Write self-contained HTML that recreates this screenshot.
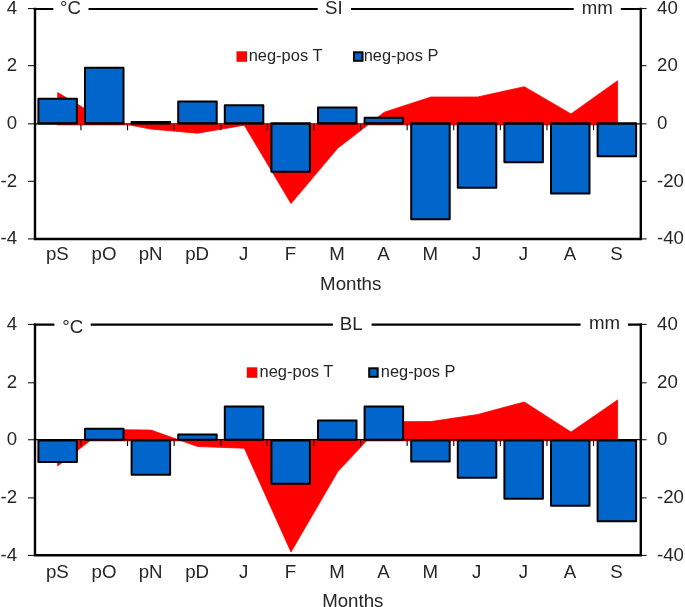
<!DOCTYPE html>
<html>
<head>
<meta charset="utf-8">
<title>Chart</title>
<style>
html,body{margin:0;padding:0;background:#fff;}
body{width:685px;height:607px;overflow:hidden;}
svg{display:block;will-change:transform;}
text{font-family:"Liberation Sans",sans-serif;fill:#262626;}
.ax{font-size:18.67px;}
.lg{font-size:16px;}
</style>
</head>
<body>
<svg width="685" height="607" viewBox="0 0 685 607">
<rect x="0" y="0" width="685" height="607" fill="#ffffff"/>

<line x1="34.95" y1="123.85" x2="640.80" y2="123.85" stroke="#000" stroke-width="1.3"/>
<polygon fill="#ff0000" stroke="#ff0000" stroke-width="0.8" stroke-linejoin="miter" points="57.7,124.2 57.7,92.6 104.3,120.2 151.0,129.1 197.6,133.2 244.3,125.2 291.0,203.6 337.7,148.2 384.3,112.2 431.0,97.0 477.7,97.0 524.3,86.7 571.0,113.9 617.6,80.7 617.6,124.2"/>
<rect x="57.05" y="123.00" width="561.20" height="2.30" fill="#ff0000"/>
<rect x="38.40" y="98.70" width="38.50" height="24.60" fill="#0066cc" stroke="#000" stroke-width="2" stroke-linejoin="round"/>
<line x1="37.50" y1="123.50" x2="77.80" y2="123.50" stroke="#000" stroke-width="2.2"/>
<rect x="85.00" y="67.80" width="38.50" height="55.50" fill="#0066cc" stroke="#000" stroke-width="2" stroke-linejoin="round"/>
<line x1="84.10" y1="123.50" x2="124.40" y2="123.50" stroke="#000" stroke-width="2.2"/>
<rect x="131.60" y="122.10" width="38.50" height="1.20" fill="#0066cc" stroke="#000" stroke-width="2" stroke-linejoin="round"/>
<line x1="130.70" y1="123.50" x2="171.00" y2="123.50" stroke="#000" stroke-width="2.2"/>
<rect x="178.20" y="101.60" width="38.50" height="21.70" fill="#0066cc" stroke="#000" stroke-width="2" stroke-linejoin="round"/>
<line x1="177.30" y1="123.50" x2="217.60" y2="123.50" stroke="#000" stroke-width="2.2"/>
<rect x="224.80" y="105.30" width="38.50" height="18.00" fill="#0066cc" stroke="#000" stroke-width="2" stroke-linejoin="round"/>
<line x1="223.90" y1="123.50" x2="264.20" y2="123.50" stroke="#000" stroke-width="2.2"/>
<rect x="271.40" y="123.50" width="38.50" height="48.30" fill="#0066cc" stroke="#000" stroke-width="2" stroke-linejoin="round"/>
<line x1="270.50" y1="123.50" x2="310.80" y2="123.50" stroke="#000" stroke-width="2.2"/>
<rect x="318.00" y="107.40" width="38.50" height="15.90" fill="#0066cc" stroke="#000" stroke-width="2" stroke-linejoin="round"/>
<line x1="317.10" y1="123.50" x2="357.40" y2="123.50" stroke="#000" stroke-width="2.2"/>
<rect x="364.60" y="117.70" width="38.50" height="5.60" fill="#0066cc" stroke="#000" stroke-width="2" stroke-linejoin="round"/>
<line x1="363.70" y1="123.50" x2="404.00" y2="123.50" stroke="#000" stroke-width="2.2"/>
<rect x="411.20" y="123.50" width="38.50" height="95.70" fill="#0066cc" stroke="#000" stroke-width="2" stroke-linejoin="round"/>
<line x1="410.30" y1="123.50" x2="450.60" y2="123.50" stroke="#000" stroke-width="2.2"/>
<rect x="457.80" y="123.50" width="38.50" height="64.20" fill="#0066cc" stroke="#000" stroke-width="2" stroke-linejoin="round"/>
<line x1="456.90" y1="123.50" x2="497.20" y2="123.50" stroke="#000" stroke-width="2.2"/>
<rect x="504.40" y="123.50" width="38.50" height="38.70" fill="#0066cc" stroke="#000" stroke-width="2" stroke-linejoin="round"/>
<line x1="503.50" y1="123.50" x2="543.80" y2="123.50" stroke="#000" stroke-width="2.2"/>
<rect x="551.00" y="123.50" width="38.50" height="70.10" fill="#0066cc" stroke="#000" stroke-width="2" stroke-linejoin="round"/>
<line x1="550.10" y1="123.50" x2="590.40" y2="123.50" stroke="#000" stroke-width="2.2"/>
<rect x="597.60" y="123.50" width="38.50" height="32.70" fill="#0066cc" stroke="#000" stroke-width="2" stroke-linejoin="round"/>
<line x1="596.70" y1="123.50" x2="637.00" y2="123.50" stroke="#000" stroke-width="2.2"/>
<line x1="80.95" y1="124.05" x2="80.95" y2="130.35" stroke="#000" stroke-width="1.1"/>
<line x1="127.55" y1="124.05" x2="127.55" y2="130.35" stroke="#000" stroke-width="1.1"/>
<line x1="174.15" y1="124.05" x2="174.15" y2="130.35" stroke="#000" stroke-width="1.1"/>
<line x1="220.75" y1="124.05" x2="220.75" y2="130.35" stroke="#000" stroke-width="1.1"/>
<line x1="267.35" y1="124.05" x2="267.35" y2="130.35" stroke="#000" stroke-width="1.1"/>
<line x1="313.95" y1="124.05" x2="313.95" y2="130.35" stroke="#000" stroke-width="1.1"/>
<line x1="360.55" y1="124.05" x2="360.55" y2="130.35" stroke="#000" stroke-width="1.1"/>
<line x1="407.15" y1="124.05" x2="407.15" y2="130.35" stroke="#000" stroke-width="1.1"/>
<line x1="453.75" y1="124.05" x2="453.75" y2="130.35" stroke="#000" stroke-width="1.1"/>
<line x1="500.35" y1="124.05" x2="500.35" y2="130.35" stroke="#000" stroke-width="1.1"/>
<line x1="546.95" y1="124.05" x2="546.95" y2="130.35" stroke="#000" stroke-width="1.1"/>
<line x1="593.55" y1="124.05" x2="593.55" y2="130.35" stroke="#000" stroke-width="1.1"/>
<path d="M35.0 9.0 V239.0 H640.8 V9.0" fill="none" stroke="#000" stroke-width="2.4" stroke-linecap="square" stroke-linejoin="miter"/>
<line x1="33.8" y1="9.0" x2="642.0" y2="9.0" stroke="#000" stroke-width="2.2"/>
<line x1="27.9" y1="8.60" x2="35.0" y2="8.60" stroke="#000" stroke-width="1"/>
<line x1="640.8" y1="8.60" x2="646.6" y2="8.60" stroke="#000" stroke-width="1"/>
<text class="ax" transform="translate(17.20,14.10) scale(1.000,1)" text-anchor="end">4</text>
<text class="ax" transform="translate(657.00,14.10) scale(1.000,1)">40</text>
<line x1="27.9" y1="65.70" x2="35.0" y2="65.70" stroke="#000" stroke-width="1"/>
<line x1="640.8" y1="65.70" x2="646.6" y2="65.70" stroke="#000" stroke-width="1"/>
<text class="ax" transform="translate(17.20,71.20) scale(1.000,1)" text-anchor="end">2</text>
<text class="ax" transform="translate(657.00,71.20) scale(1.000,1)">20</text>
<line x1="27.9" y1="123.85" x2="35.0" y2="123.85" stroke="#000" stroke-width="1"/>
<line x1="640.8" y1="123.85" x2="646.6" y2="123.85" stroke="#000" stroke-width="1"/>
<text class="ax" transform="translate(17.20,129.35) scale(1.000,1)" text-anchor="end">0</text>
<text class="ax" transform="translate(657.00,129.35) scale(1.000,1)">0</text>
<line x1="27.9" y1="181.30" x2="35.0" y2="181.30" stroke="#000" stroke-width="1"/>
<line x1="640.8" y1="181.30" x2="646.6" y2="181.30" stroke="#000" stroke-width="1"/>
<text class="ax" transform="translate(17.20,186.80) scale(1.000,1)" text-anchor="end">-2</text>
<text class="ax" transform="translate(657.00,186.80) scale(1.000,1)">-20</text>
<line x1="27.9" y1="238.90" x2="35.0" y2="238.90" stroke="#000" stroke-width="1"/>
<line x1="640.8" y1="238.90" x2="646.6" y2="238.90" stroke="#000" stroke-width="1"/>
<text class="ax" transform="translate(17.20,244.40) scale(1.000,1)" text-anchor="end">-4</text>
<text class="ax" transform="translate(657.00,244.40) scale(1.000,1)">-40</text>
<rect x="53.3" y="6.0" width="35.2" height="6" fill="#fff"/>
<text class="ax" transform="translate(60.00,13.70) scale(1.000,1)">°C</text>
<rect x="317.7" y="6.0" width="33.3" height="6" fill="#fff"/>
<text class="ax" transform="translate(325.00,13.70) scale(1.000,1)">SI</text>
<rect x="573.7" y="6.0" width="47.1" height="6" fill="#fff"/>
<text class="ax" transform="translate(581.70,13.70) scale(1.000,1)">mm</text>
<rect x="236.5" y="51.3" width="10.5" height="10.5" fill="#ff0000"/>
<text class="lg" x="248.65" y="60.7" textLength="73.8" lengthAdjust="spacingAndGlyphs">neg-pos T</text>
<rect x="354.0" y="52.3" width="8.5" height="8.5" fill="#0066cc" stroke="#000" stroke-width="2"/>
<text class="lg" x="363.65" y="60.7" textLength="74.8" lengthAdjust="spacingAndGlyphs">neg-pos P</text>
<text class="ax" transform="translate(57.35,260.40) scale(1.000,1)" text-anchor="middle">pS</text>
<text class="ax" transform="translate(103.95,260.40) scale(1.000,1)" text-anchor="middle">pO</text>
<text class="ax" transform="translate(150.55,260.40) scale(1.000,1)" text-anchor="middle">pN</text>
<text class="ax" transform="translate(197.15,260.40) scale(1.000,1)" text-anchor="middle">pD</text>
<text class="ax" transform="translate(243.75,260.40) scale(1.000,1)" text-anchor="middle">J</text>
<text class="ax" transform="translate(290.35,260.40) scale(1.000,1)" text-anchor="middle">F</text>
<text class="ax" transform="translate(336.95,260.40) scale(1.000,1)" text-anchor="middle">M</text>
<text class="ax" transform="translate(383.55,260.40) scale(1.000,1)" text-anchor="middle">A</text>
<text class="ax" transform="translate(430.15,260.40) scale(1.000,1)" text-anchor="middle">M</text>
<text class="ax" transform="translate(476.75,260.40) scale(1.000,1)" text-anchor="middle">J</text>
<text class="ax" transform="translate(523.35,260.40) scale(1.000,1)" text-anchor="middle">J</text>
<text class="ax" transform="translate(569.95,260.40) scale(1.000,1)" text-anchor="middle">A</text>
<text class="ax" transform="translate(616.55,260.40) scale(1.000,1)" text-anchor="middle">S</text>
<text class="ax" transform="translate(350.70,289.60) scale(1.000,1)" text-anchor="middle">Months</text>
<polygon fill="#ff0000" stroke="#ff0000" stroke-width="0.8" stroke-linejoin="miter" points="57.7,440.5 57.7,465.9 104.3,429.6 151.0,430.1 197.6,446.5 244.3,448.2 291.0,552.0 337.7,471.7 384.3,421.7 431.0,421.6 477.7,414.5 524.3,402.0 571.0,432.1 617.6,399.9 617.6,440.5"/>
<rect x="57.05" y="439.20" width="561.20" height="2.10" fill="#ff0000"/>
<line x1="34.95" y1="439.55" x2="640.80" y2="439.55" stroke="#000" stroke-width="1.3"/>
<rect x="38.40" y="440.40" width="38.50" height="21.50" fill="#0066cc" stroke="#000" stroke-width="2" stroke-linejoin="round"/>
<rect x="85.00" y="428.70" width="38.50" height="11.00" fill="#0066cc" stroke="#000" stroke-width="2" stroke-linejoin="round"/>
<rect x="131.60" y="440.40" width="38.50" height="34.30" fill="#0066cc" stroke="#000" stroke-width="2" stroke-linejoin="round"/>
<rect x="178.20" y="434.40" width="38.50" height="5.30" fill="#0066cc" stroke="#000" stroke-width="2" stroke-linejoin="round"/>
<rect x="224.80" y="406.50" width="38.50" height="33.20" fill="#0066cc" stroke="#000" stroke-width="2" stroke-linejoin="round"/>
<rect x="271.40" y="440.40" width="38.50" height="43.30" fill="#0066cc" stroke="#000" stroke-width="2" stroke-linejoin="round"/>
<rect x="318.00" y="420.50" width="38.50" height="19.20" fill="#0066cc" stroke="#000" stroke-width="2" stroke-linejoin="round"/>
<rect x="364.60" y="406.60" width="38.50" height="33.10" fill="#0066cc" stroke="#000" stroke-width="2" stroke-linejoin="round"/>
<rect x="411.20" y="440.40" width="38.50" height="21.10" fill="#0066cc" stroke="#000" stroke-width="2" stroke-linejoin="round"/>
<rect x="457.80" y="440.40" width="38.50" height="37.30" fill="#0066cc" stroke="#000" stroke-width="2" stroke-linejoin="round"/>
<rect x="504.40" y="440.40" width="38.50" height="58.30" fill="#0066cc" stroke="#000" stroke-width="2" stroke-linejoin="round"/>
<rect x="551.00" y="440.40" width="38.50" height="65.40" fill="#0066cc" stroke="#000" stroke-width="2" stroke-linejoin="round"/>
<rect x="597.60" y="440.40" width="38.50" height="80.80" fill="#0066cc" stroke="#000" stroke-width="2" stroke-linejoin="round"/>
<line x1="80.95" y1="439.75" x2="80.95" y2="446.05" stroke="#000" stroke-width="1.1"/>
<line x1="127.55" y1="439.75" x2="127.55" y2="446.05" stroke="#000" stroke-width="1.1"/>
<line x1="174.15" y1="439.75" x2="174.15" y2="446.05" stroke="#000" stroke-width="1.1"/>
<line x1="220.75" y1="439.75" x2="220.75" y2="446.05" stroke="#000" stroke-width="1.1"/>
<line x1="267.35" y1="439.75" x2="267.35" y2="446.05" stroke="#000" stroke-width="1.1"/>
<line x1="313.95" y1="439.75" x2="313.95" y2="446.05" stroke="#000" stroke-width="1.1"/>
<line x1="360.55" y1="439.75" x2="360.55" y2="446.05" stroke="#000" stroke-width="1.1"/>
<line x1="407.15" y1="439.75" x2="407.15" y2="446.05" stroke="#000" stroke-width="1.1"/>
<line x1="453.75" y1="439.75" x2="453.75" y2="446.05" stroke="#000" stroke-width="1.1"/>
<line x1="500.35" y1="439.75" x2="500.35" y2="446.05" stroke="#000" stroke-width="1.1"/>
<line x1="546.95" y1="439.75" x2="546.95" y2="446.05" stroke="#000" stroke-width="1.1"/>
<line x1="593.55" y1="439.75" x2="593.55" y2="446.05" stroke="#000" stroke-width="1.1"/>
<path d="M35.0 324.6 V555.3 H640.8 V324.6" fill="none" stroke="#000" stroke-width="2.4" stroke-linecap="square" stroke-linejoin="miter"/>
<line x1="33.8" y1="324.6" x2="642.0" y2="324.6" stroke="#000" stroke-width="2.2"/>
<line x1="27.9" y1="324.40" x2="35.0" y2="324.40" stroke="#000" stroke-width="1"/>
<line x1="640.8" y1="324.40" x2="646.6" y2="324.40" stroke="#000" stroke-width="1"/>
<text class="ax" transform="translate(17.20,329.90) scale(1.000,1)" text-anchor="end">4</text>
<text class="ax" transform="translate(657.00,329.90) scale(1.000,1)">40</text>
<line x1="27.9" y1="382.80" x2="35.0" y2="382.80" stroke="#000" stroke-width="1"/>
<line x1="640.8" y1="382.80" x2="646.6" y2="382.80" stroke="#000" stroke-width="1"/>
<text class="ax" transform="translate(17.20,388.30) scale(1.000,1)" text-anchor="end">2</text>
<text class="ax" transform="translate(657.00,388.30) scale(1.000,1)">20</text>
<line x1="27.9" y1="439.75" x2="35.0" y2="439.75" stroke="#000" stroke-width="1"/>
<line x1="640.8" y1="439.75" x2="646.6" y2="439.75" stroke="#000" stroke-width="1"/>
<text class="ax" transform="translate(17.20,445.25) scale(1.000,1)" text-anchor="end">0</text>
<text class="ax" transform="translate(657.00,445.25) scale(1.000,1)">0</text>
<line x1="27.9" y1="497.90" x2="35.0" y2="497.90" stroke="#000" stroke-width="1"/>
<line x1="640.8" y1="497.90" x2="646.6" y2="497.90" stroke="#000" stroke-width="1"/>
<text class="ax" transform="translate(17.20,503.40) scale(1.000,1)" text-anchor="end">-2</text>
<text class="ax" transform="translate(657.00,503.40) scale(1.000,1)">-20</text>
<line x1="27.9" y1="555.40" x2="35.0" y2="555.40" stroke="#000" stroke-width="1"/>
<line x1="640.8" y1="555.40" x2="646.6" y2="555.40" stroke="#000" stroke-width="1"/>
<text class="ax" transform="translate(17.20,560.90) scale(1.000,1)" text-anchor="end">-4</text>
<text class="ax" transform="translate(657.00,560.90) scale(1.000,1)">-40</text>
<rect x="54.4" y="321.6" width="36.3" height="6" fill="#fff"/>
<text class="ax" transform="translate(62.30,333.30) scale(1.000,1)">°C</text>
<rect x="332.9" y="321.6" width="38.7" height="6" fill="#fff"/>
<text class="ax" transform="translate(339.80,330.20) scale(1.000,1)">BL</text>
<rect x="580.6" y="321.6" width="47.3" height="6" fill="#fff"/>
<text class="ax" transform="translate(589.00,329.10) scale(1.000,1)">mm</text>
<rect x="246.8" y="367.3" width="10.5" height="10.5" fill="#ff0000"/>
<text class="lg" x="259.55" y="377.3" textLength="73.8" lengthAdjust="spacingAndGlyphs">neg-pos T</text>
<rect x="369.2" y="368.3" width="8.5" height="8.5" fill="#0066cc" stroke="#000" stroke-width="2"/>
<text class="lg" x="380.75" y="377.3" textLength="74.8" lengthAdjust="spacingAndGlyphs">neg-pos P</text>
<text class="ax" transform="translate(57.35,578.00) scale(1.000,1)" text-anchor="middle">pS</text>
<text class="ax" transform="translate(103.95,578.00) scale(1.000,1)" text-anchor="middle">pO</text>
<text class="ax" transform="translate(150.55,578.00) scale(1.000,1)" text-anchor="middle">pN</text>
<text class="ax" transform="translate(197.15,578.00) scale(1.000,1)" text-anchor="middle">pD</text>
<text class="ax" transform="translate(243.75,578.00) scale(1.000,1)" text-anchor="middle">J</text>
<text class="ax" transform="translate(290.35,578.00) scale(1.000,1)" text-anchor="middle">F</text>
<text class="ax" transform="translate(336.95,578.00) scale(1.000,1)" text-anchor="middle">M</text>
<text class="ax" transform="translate(383.55,578.00) scale(1.000,1)" text-anchor="middle">A</text>
<text class="ax" transform="translate(430.15,578.00) scale(1.000,1)" text-anchor="middle">M</text>
<text class="ax" transform="translate(476.75,578.00) scale(1.000,1)" text-anchor="middle">J</text>
<text class="ax" transform="translate(523.35,578.00) scale(1.000,1)" text-anchor="middle">J</text>
<text class="ax" transform="translate(569.95,578.00) scale(1.000,1)" text-anchor="middle">A</text>
<text class="ax" transform="translate(616.55,578.00) scale(1.000,1)" text-anchor="middle">S</text>
<text class="ax" transform="translate(352.80,607.20) scale(1.000,1)" text-anchor="middle">Months</text>
</svg>
</body>
</html>
